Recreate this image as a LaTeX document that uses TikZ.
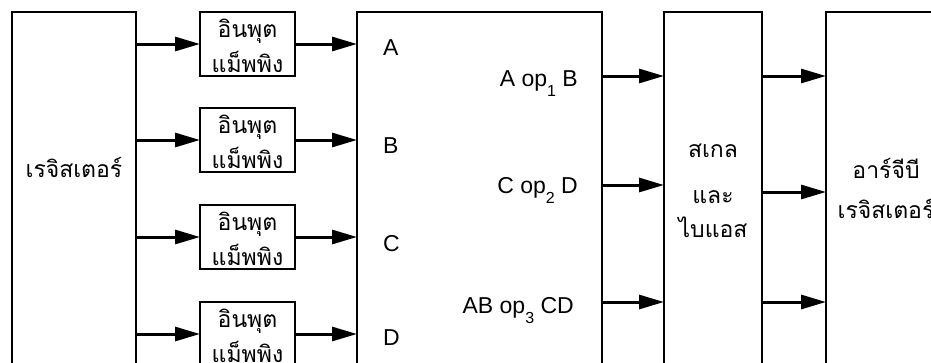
\documentclass[tikz,border=0pt]{standalone}
\usepackage{fontspec}
\setmainfont{Liberation Sans}
\newfontfamily\thai[Script=Thai]{Loma}
\usetikzlibrary{arrows.meta}
% lowered small index after "op"
\newcommand\opsub[1]{\raisebox{-10pt}{\fontsize{16}{16}\selectfont #1}}
\begin{document}
\begin{tikzpicture}[x=1pt,y=-1pt,
  box/.style={draw,line width=1.3pt,inner sep=0pt,outer sep=0pt,anchor=north west},
  flow/.style={line width=3pt,-{Triangle[length=25pt,width=14pt]}},
  th/.style={font=\thai\fontsize{23}{23}\selectfont,inner sep=0pt,anchor=base},
  lat/.style={font=\fontsize{23}{23}\selectfont,inner sep=0pt}]
\useasboundingbox (0,0) rectangle (931,362);
\clip (0,0) rectangle (931,362);

% blocks
\node[box,minimum width=124pt,minimum height=400pt] (reg) at (12,12) {};
\node[box,minimum width=95pt,minimum height=64pt] (map1) at (200,12) {};
\node[box,minimum width=95pt,minimum height=64pt] (map2) at (200,108) {};
\node[box,minimum width=95pt,minimum height=64pt] (map3) at (200,205) {};
\node[box,minimum width=95pt,minimum height=64pt] (map4) at (200,302) {};
\node[box,minimum width=245pt,minimum height=400pt] (alu) at (357,12) {};
\node[box,minimum width=98pt,minimum height=400pt] (sb) at (664,12) {};
\node[box,minimum width=200pt,minimum height=400pt] (rgb) at (826,12) {};

% register file to input mapping to operation unit
\foreach \i in {1,2,3,4}{
  \draw[flow] (reg.east |- map\i.west) -- (map\i.west);
  \draw[flow] (map\i.east) -- (map\i.east -| alu.west);
}

% result rows
\coordinate (p1) at (0,76);
\coordinate (p2) at (0,185);
\coordinate (p3) at (0,302);
\coordinate (q1) at (0,76);
\coordinate (q2) at (0,192);
\coordinate (q3) at (0,302);
\foreach \i in {1,2,3}{
  \draw[flow] (alu.east |- p\i) -- (sb.west |- p\i);
  \draw[flow] (sb.east |- q\i) -- (rgb.west |- q\i);
}

% labels
\node[th] (regtxt) at (74,177) {เรจิสเตอร์};
\foreach \t [count=\i] in {12,108,205,302}{
  \node[th] (mapa\i) at (247.5,\t+25) {อินพุต};
  \node[th] (mapb\i) at (247.5,\t+60) {แม็พพิง};
}
\node[lat,anchor=base west] (inA) at (383,55) {A};
\node[lat,anchor=base west] (inB) at (383,153) {B};
\node[lat,anchor=base west] (inC) at (383,251) {C};
\node[lat,anchor=base west] (inD) at (383,345) {D};
\node[lat,anchor=base east] (op1) at (578,86) {A op\opsub{1} B};
\node[lat,anchor=base east] (op2) at (578,193) {C op\opsub{2} D};
\node[lat,anchor=base east] (op3) at (574,313) {AB op\opsub{3} CD};
\node[th] (sb1) at (713,157) {สเกล};
\node[th] (sb2) at (713,203) {และ};
\node[th] (sb3) at (713,237) {ไบแอส};
\node[th] (rgb1) at (886,178) {อาร์จีบี};
\node[th] (rgb2) at (886,218) {เรจิสเตอร์};
\end{tikzpicture}
\end{document}
